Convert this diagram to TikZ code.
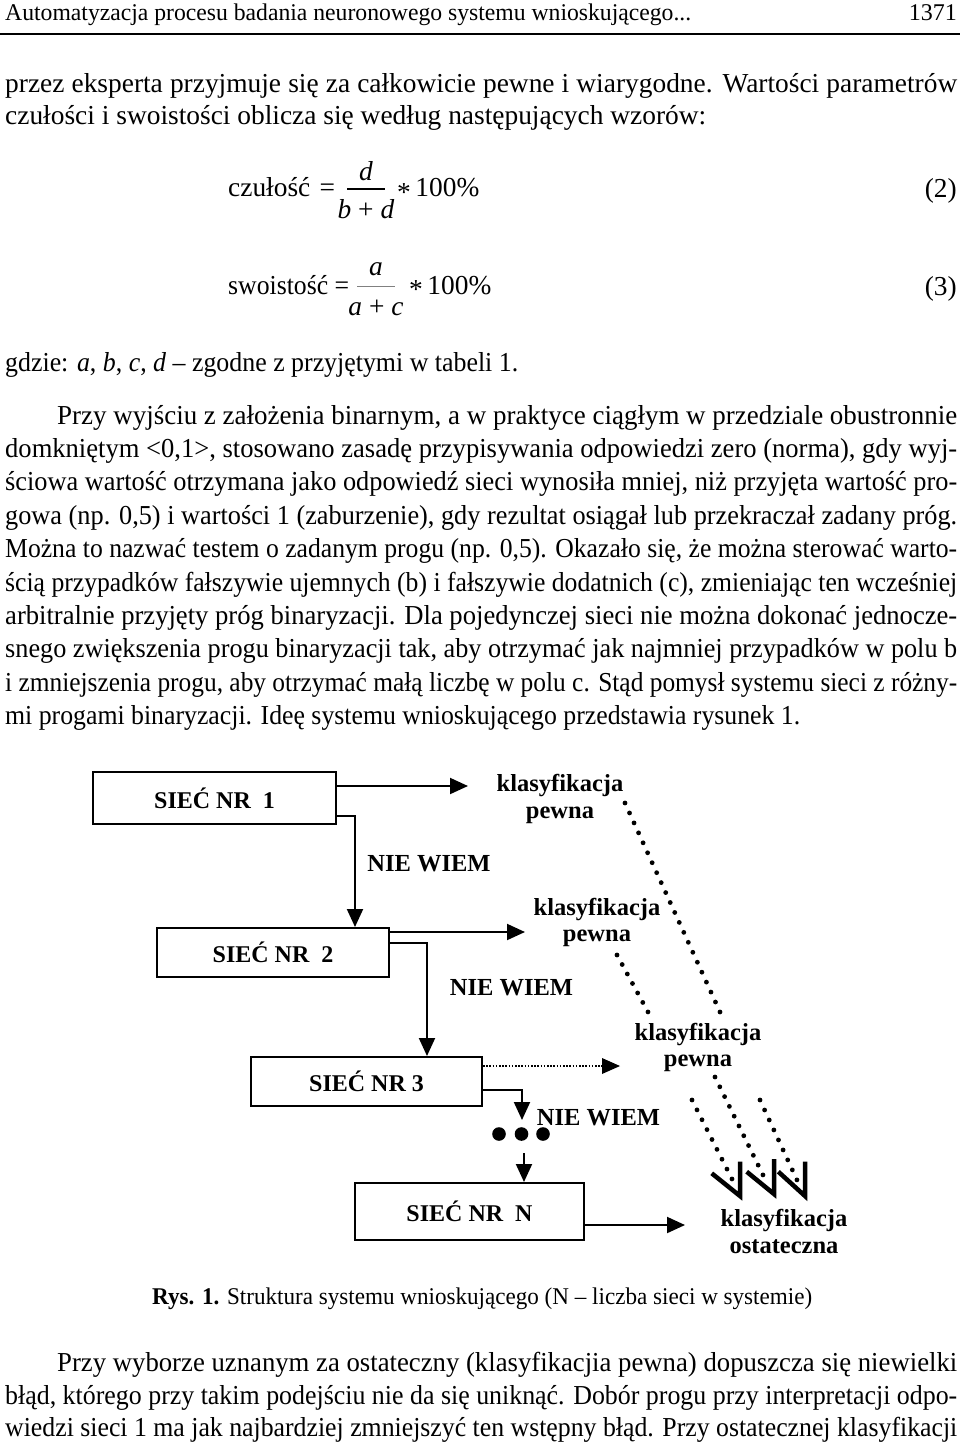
\documentclass[tikz,border=0pt]{standalone}
\usepackage{graphicx}
\usepackage{fontspec}
\setmainfont{Liberation Serif}
\usetikzlibrary{arrows.meta}
\newsavebox\lnbox
\newcommand\jline[2]{\sbox\lnbox{#2}\ifdim\wd\lnbox>#1pt\relax\resizebox{#1pt}{\height}{\usebox\lnbox}\else\makebox[#1pt][s]{#2}\fi}
\newcommand\mystar{\raisebox{-5pt}{*}}
\tikzset{
  body/.style={anchor=base west, inner sep=0pt, font=\fontsize{27.4}{32}\selectfont},
  small/.style={anchor=base west, inner sep=0pt, font=\fontsize{24}{28}\selectfont},
  lab/.style={anchor=base, inner sep=0pt, font=\fontsize{24.5}{26}\selectfont\bfseries},
  box/.style={draw, line width=2pt, inner sep=0pt, font=\fontsize{24}{26}\selectfont\bfseries},
  conn/.style={line width=2pt, -{Triangle[length=18pt,width=16pt]}},
  bigdots/.style={line width=4.8pt, line cap=round},
  chev/.style={line width=4.5pt, line join=miter},
}
\begin{document}
\begin{tikzpicture}[x=1pt,y=-1pt]
\fill[white] (0,0) rectangle (960,1447);
\useasboundingbox (0,0) rectangle (960,1447);
% header
\node[small] (hd) at (5,21) {\jline{686}{Automatyzacja procesu badania neuronowego systemu wnioskującego...}};
\node[small, anchor=base east] (pg) at (957,21) {1371};
\draw[line width=2pt] (0,34) -- (960,34);
% first paragraph end
\node[body] (l1) at (5,93) {\jline{952}{przez eksperta przyjmuje się za całkowicie pewne i wiarygodne. Wartości parametrów}};
\node[body] (l2) at (5,125) {\jline{701}{czułości i swoistości oblicza się według następujących wzorów:}};
% formula 2
\node[body] (f1l) at (228,197) {czułość\,\,=};
\draw[line width=1.4pt] (347,189) -- (385,189);
\node[body, anchor=base] (f1n) at (366,181) {\textit{d}};
\node[body, anchor=base] (f1d) at (366,219) {\textit{b} + \textit{d}};
\node[body] (f1r) at (397,197) {\mystar\,100\%};
\node[body, anchor=base east] (f1e) at (957,198) {(2)};
% formula 3
\node[body] (f2l) at (228,294) {\jline{121}{swoistość =}};
\draw[line width=1pt, gray] (357,286) -- (395,286);
\node[body, anchor=base] (f2n) at (376,276) {\textit{a}};
\node[body, anchor=base] (f2d) at (376,315) {\textit{a} + \textit{c}};
\node[body] (f2r) at (409,294) {\mystar\,100\%};
\node[body, anchor=base east] (f2e) at (957,295) {(3)};
\node[body] (gd) at (5,371) {\jline{513}{gdzie: \textit{a}, \textit{b}, \textit{c}, \textit{d} – zgodne z przyjętymi w tabeli 1.}};
% paragraph
\node[body] (p1) at (57,424) {\jline{900}{Przy wyjściu z założenia binarnym, a w praktyce ciągłym w przedziale obustronnie}};
\node[body] (p2) at (5,457.4) {\jline{952}{domkniętym <0,1>, stosowano zasadę przypisywania odpowiedzi zero (norma), gdy wyj-}};
\node[body] (p3) at (5,490.8) {\jline{952}{ściowa wartość otrzymana jako odpowiedź sieci wynosiła mniej, niż przyjęta wartość pro-}};
\node[body] (p4) at (5,524.2) {\jline{952}{gowa (np. 0,5) i wartości 1 (zaburzenie), gdy rezultat osiągał lub przekraczał zadany próg.}};
\node[body] (p5) at (5,557.6) {\jline{952}{Można to nazwać testem o zadanym progu (np. 0,5). Okazało się, że można sterować warto-}};
\node[body] (p6) at (5,591) {\jline{952}{ścią przypadków fałszywie ujemnych (b) i fałszywie dodatnich (c), zmieniając ten wcześniej}};
\node[body] (p7) at (5,624.4) {\jline{952}{arbitralnie przyjęty próg binaryzacji. Dla pojedynczej sieci nie można dokonać jednocze-}};
\node[body] (p8) at (5,657.8) {\jline{952}{snego zwiększenia progu binaryzacji tak, aby otrzymać jak najmniej przypadków w polu b}};
\node[body] (p9) at (5,691.2) {\jline{952}{i zmniejszenia progu, aby otrzymać małą liczbę w polu c. Stąd pomysł systemu sieci z różny-}};
\node[body] (p10) at (5,724.6) {\jline{795}{mi progami binaryzacji. Ideę systemu wnioskującego przedstawia rysunek 1.}};
% diagram boxes
\node[box, minimum width=243pt, minimum height=52pt] (s1) at (214.5,798) {SIEĆ NR~~1};
\node[box, minimum width=232pt, minimum height=49pt] (s2) at (273,952.5) {SIEĆ NR~~2};
\node[box, minimum width=231pt, minimum height=49pt] (s3) at (366.5,1081.5) {SIEĆ NR 3};
\node[box, minimum width=229pt, minimum height=57pt] (sN) at (469.5,1211.5) {SIEĆ NR~~N};
% labels
\node[lab] (k1a) at (560,791) {klasyfikacja};
\node[lab] (k1b) at (560,818) {pewna};
\node[lab] (k2a) at (597,915) {klasyfikacja};
\node[lab] (k2b) at (597,941) {pewna};
\node[lab] (k3a) at (698,1040) {klasyfikacja};
\node[lab] (k3b) at (698,1066) {pewna};
\node[lab] (k4a) at (784,1226) {klasyfikacja};
\node[lab] (k4b) at (784,1253) {ostateczna};
\node[lab] (n1) at (429,871) {NIE WIEM};
\node[lab] (n2) at (511.5,995) {NIE WIEM};
\node[lab] (n3) at (598.5,1125) {NIE WIEM};
% coordinates
\coordinate (t1) at (468,786);
\coordinate (t2) at (525,932);
\coordinate (t3) at (620,1066);
\coordinate (t4) at (522,1120);
\coordinate (t5) at (524,1153);
\coordinate (t6) at (685,1225);
% connectors
\draw[conn] ([yshift=12pt]s1.east) -- (t1);
\draw[conn] ([yshift=-18pt]s1.east) -| ([xshift=82pt]s2.north);
\draw[conn] ([yshift=20.5pt]s2.east) -- (t2);
\draw[conn] ([yshift=9.5pt]s2.east) -| ([xshift=60.5pt]s3.north);
\draw[line width=1.6pt, dash pattern=on 1.6pt off 1.6pt] ([yshift=15.5pt]s3.east) -- ([xshift=-17pt]t3);
\fill ([xshift=-18pt,yshift=8pt]t3) -- (t3) -- ([xshift=-18pt,yshift=-8pt]t3) -- cycle;
\draw[conn] ([yshift=-8.5pt]s3.east) -| (t4);
\fill (499,1134) circle (6.8pt) (521.5,1134) circle (6.8pt) (543,1134) circle (6.8pt);
\draw[conn] (t5) -- ([xshift=54.5pt]sN.north);
\draw[conn] ([yshift=-13.5pt]sN.east) -- (t6);
% dotted chains
\coordinate (a1) at (625,803); \coordinate (a2) at (720,1012);
\coordinate (b1) at (617,955); \coordinate (b2) at (648,1012);
\coordinate (m1) at (715,1077); \coordinate (m2) at (763,1175);
\coordinate (l1s) at (692,1100); \coordinate (l1e) at (732,1179);
\coordinate (r1) at (760,1100); \coordinate (r2) at (797,1180);
\draw[bigdots, dash pattern=on 0pt off 10.93pt] (a1) -- (a2);
\draw[bigdots, dash pattern=on 0pt off 10.8pt] (b1) -- (b2);
\draw[bigdots, dash pattern=on 0pt off 10.9pt] (m1) -- (m2);
\draw[bigdots, dash pattern=on 0pt off 11.06pt] (l1s) -- (l1e);
\draw[bigdots, dash pattern=on 0pt off 11pt] (r1) -- (r2);
\draw[chev] (711.7,1173.3) -- (740,1196) -- (740,1161.7);
\draw[chev] (746.7,1171.7) -- (774,1194) -- (774,1159);
\draw[chev] (778.3,1171.7) -- (805,1196) -- (805,1161.7);
% caption
\node[small] (cap) at (152,1304) {\jline{660}{\textbf{Rys. 1.} Struktura systemu wnioskującego (N – liczba sieci w systemie)}};
% last paragraph
\node[body] (q1) at (57,1371) {\jline{900}{Przy wyborze uznanym za ostateczny (klasyfikacjia pewna) dopuszcza się niewielki}};
\node[body] (q2) at (5,1404) {\jline{952}{błąd, którego przy takim podejściu nie da się uniknąć. Dobór progu przy interpretacji odpo-}};
\node[body] (q3) at (5,1436) {\jline{952}{wiedzi sieci 1 ma jak najbardziej zmniejszyć ten wstępny błąd. Przy ostatecznej klasyfikacji}};
\end{tikzpicture}
\end{document}
